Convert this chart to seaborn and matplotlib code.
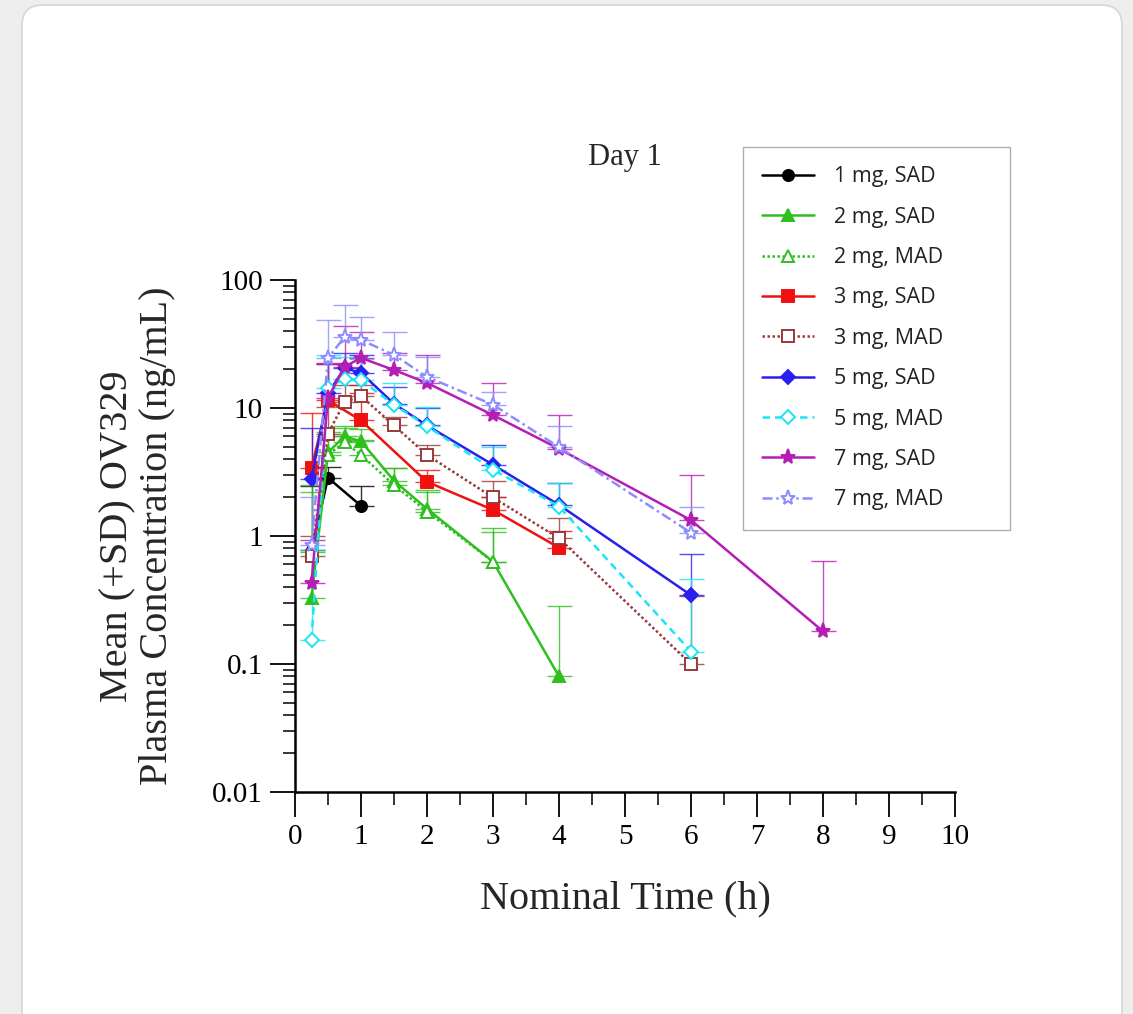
import numpy as np
import matplotlib
matplotlib.use("Agg")
import matplotlib.pyplot as plt
from matplotlib.patches import FancyBboxPatch
from matplotlib.ticker import FixedLocator, LogLocator, NullFormatter
import seaborn as sns

# Mean plasma concentration (ng/mL) and mean+SD
t_1sad = [0.25, 0.5, 1]
c_1sad = [0.78, 2.85, 1.72]
u_1sad = [2.45, 3.45, 2.45]

t_2sad = [0.25, 0.5, 0.75, 1, 1.5, 2, 3, 4]
c_2sad = [0.33, 4.5, 6.0, 5.5, 2.7, 1.63, 0.63, 0.08]
u_2sad = [2.2, 6.5, 7.2, 6.8, 3.4, 2.3, 1.15, 0.285]

t_2mad = [0.25, 0.5, 0.75, 1, 1.5, 2, 3]
c_2mad = [0.75, 4.3, 5.4, 4.3, 2.5, 1.55, 0.63]
u_2mad = [2.5, 6.0, 7.0, 5.6, 3.4, 2.2, 1.07]

t_3sad = [0.25, 0.5, 1, 2, 3, 4]
c_3sad = [3.4, 11.5, 8.0, 2.65, 1.6, 0.81]
u_3sad = [9.1, 22.5, 13.0, 3.3, 2.0, 1.1]

t_3mad = [0.25, 0.5, 0.75, 1, 1.5, 2, 3, 4, 6]
c_3mad = [0.7, 6.3, 11.1, 12.4, 7.3, 4.3, 2.0, 0.96, 0.10]
u_3mad = [1.0, 10.2, 15.1, 15.0, 8.5, 5.1, 2.7, 1.38, 0.34]

t_5sad = [0.25, 0.5, 0.75, 1, 1.5, 2, 3, 4, 6]
c_5sad = [2.8, 13.0, 20.5, 18.8, 10.8, 7.3, 3.6, 1.75, 0.345]
u_5sad = [7.0, 22.0, 27.0, 26.0, 14.5, 10.0, 5.1, 2.6, 0.72]

t_5mad = [0.25, 0.5, 0.75, 1, 1.5, 2, 3, 4, 6]
c_5mad = [0.155, 14.3, 17.0, 16.5, 10.6, 7.2, 3.3, 1.7, 0.125]
u_5mad = [0.78, 26.0, 25.0, 24.0, 15.7, 10.2, 5.0, 2.6, 0.46]

t_7sad = [0.25, 0.5, 0.75, 1, 1.5, 2, 3, 4, 6, 8]
c_7sad = [0.43, 12.0, 21.0, 24.6, 19.8, 15.7, 8.8, 4.8, 1.33, 0.18]
u_7sad = [0.93, 22.0, 43.6, 39.5, 27.0, 26.0, 15.7, 8.8, 3.0, 0.64]

t_7mad = [0.25, 0.5, 0.75, 1, 1.5, 2, 3, 4, 6]
c_7mad = [0.85, 24.6, 35.8, 34.0, 26.0, 17.5, 10.6, 4.95, 1.06]
u_7mad = [2.0, 48.6, 63.6, 51.0, 39.0, 25.0, 13.3, 7.2, 1.7]

# (label, times, mean, upper, color, marker, linestyle, filled)
series = [
    ("1 mg, SAD", t_1sad, c_1sad, u_1sad, "black", "o", "-", True),
    ("2 mg, SAD", t_2sad, c_2sad, u_2sad, "#2fbf1f", "^", "-", True),
    ("2 mg, MAD", t_2mad, c_2mad, u_2mad, "#2fbf1f", "^", (0, (1, 1)), False),
    ("3 mg, SAD", t_3sad, c_3sad, u_3sad, "#f01010", "s", "-", True),
    ("3 mg, MAD", t_3mad, c_3mad, u_3mad, "#9b3a3a", "s", (0, (1, 1)), False),
    ("5 mg, SAD", t_5sad, c_5sad, u_5sad, "#2a1ff0", "D", "-", True),
    ("5 mg, MAD", t_5mad, c_5mad, u_5mad, "#19e6f5", "D", (0, (3, 2)), False),
    ("7 mg, SAD", t_7sad, c_7sad, u_7sad, "#b41eb4", "*", "-", True),
    ("7 mg, MAD", t_7mad, c_7mad, u_7mad, "#8c8cff", "*", (0, (4, 1.5, 1, 1.5)), False),
]

sns.set_theme(style="ticks")
plt.rcParams["font.family"] = ["Liberation Serif", "DejaVu Serif"]

fig = plt.figure(figsize=(11.33, 10.14), dpi=100)
fig.patch.set_facecolor("#eeeeee")
card = FancyBboxPatch((22 / 1133, -0.05), 1100 / 1133, 1.045,
                      boxstyle="round,pad=0,rounding_size=0.018",
                      mutation_aspect=1133 / 1014,
                      transform=fig.transFigure, facecolor="white",
                      edgecolor="#d6d6d6", linewidth=1.2, zorder=-10)
fig.patches.append(card)

ax = fig.add_axes([295 / 1133, 222 / 1014, 660 / 1133, 512 / 1014])
ax.set_facecolor("none")

for label, t, c, u, color, marker, ls, filled in series:
    t = np.array(t)
    c = np.array(c)
    u = np.array(u)
    ms = 11 if marker == "*" else 8
    if marker == "D":
        ms = 7.5
    sns.lineplot(x=t, y=c, ax=ax, color=color, linestyle=ls, linewidth=1.8,
                 marker=marker, markersize=ms,
                 markerfacecolor=color if filled else "white",
                 markeredgecolor=color, markeredgewidth=1.4,
                 label=label, zorder=3)
    ax.errorbar(t, c, yerr=[np.zeros_like(c), u - c], fmt="none",
                ecolor=color, elinewidth=1.0, capsize=9, capthick=1.0,
                alpha=0.8, zorder=2)

ax.set_yscale("log")
ax.set_ylim(0.01, 100)
ax.set_xlim(0, 10)
ax.xaxis.set_major_locator(FixedLocator(np.arange(0, 11, 1)))
ax.xaxis.set_minor_locator(FixedLocator(np.arange(0.5, 10, 1)))
ax.yaxis.set_major_locator(FixedLocator([0.01, 0.1, 1, 10, 100]))
ax.yaxis.set_minor_locator(LogLocator(base=10, subs=np.arange(2, 10)))
ax.yaxis.set_minor_formatter(NullFormatter())
ax.set_yticklabels(["0.01", "0.1", "1", "10", "100"])

sns.despine(ax=ax)
for sp in ["left", "bottom"]:
    ax.spines[sp].set_linewidth(1.8)
    ax.spines[sp].set_color("black")
ax.tick_params(which="major", direction="out", length=18, width=1.3,
               labelsize=21, pad=5, colors="black")
ax.tick_params(which="minor", direction="out", length=9, width=1.1,
               colors="black")

ax.set_xlabel("Nominal Time (h)", fontsize=29, labelpad=22)
ax.set_ylabel("Mean (+SD) OV329\nPlasma Concentration (ng/mL)", fontsize=29,
              labelpad=26, linespacing=1.1)

fig.text(625 / 1133, 1 - 157 / 1014, "Day 1", ha="center", va="center",
         fontsize=22)

leg = ax.legend(loc="upper left",
                bbox_to_anchor=(743 / 1133, 1 - 147 / 1014, 267 / 1133, 0.0),
                bbox_transform=fig.transFigure, mode="expand",
                prop={"family": "Open Sans", "size": 15.5},
                frameon=True, fancybox=False, edgecolor="#999999",
                handlelength=2.4, handletextpad=0.95, labelspacing=0.9,
                borderpad=0.9, borderaxespad=0)
leg.get_frame().set_linewidth(1.0)
for txt in leg.get_texts():
    txt.set_color("#222222")

fig.savefig("out.png", dpi=100, facecolor=fig.get_facecolor())
